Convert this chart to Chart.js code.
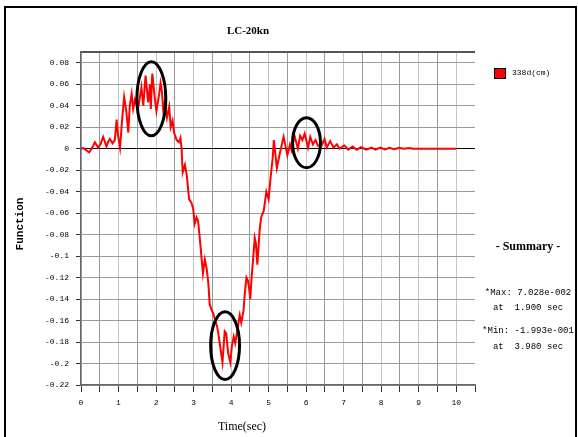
<!DOCTYPE html>
<html>
<head>
<meta charset="utf-8">
<title>LC-20kn</title>
<script src="https://cdn.jsdelivr.net/npm/chart.js@4/dist/chart.umd.min.js"></script>
<style>
  html, body { margin: 0; padding: 0; background: #fff; }
  #wrap { position: relative; width: 578px; height: 437px; }
</style>
</head>
<body>
<div id="wrap"><canvas id="grafico" width="578" height="437"></canvas></div>
<script>
// Dados
const titulo = 'LC-20kn';
const nomeSerie = '338d(cm)';
const tituloX = 'Time(sec)';
const tituloY = 'Function';

const tempos = [
  0, 0.06, 0.12, 0.22, 0.30, 0.37, 0.46, 0.52, 0.59, 0.68, 0.72, 0.77, 0.84, 0.90, 0.95, 0.98,
  1.04, 1.10, 1.15, 1.21, 1.26, 1.30, 1.35, 1.39, 1.44, 1.52, 1.61, 1.66, 1.72, 1.79, 1.84, 1.86,
  1.90, 1.97, 2.01, 2.08, 2.12, 2.16, 2.19, 2.23, 2.29, 2.35, 2.39, 2.44, 2.48, 2.55, 2.61, 2.65,
  2.68, 2.71, 2.77, 2.82, 2.88, 2.94, 2.99, 3.03, 3.08, 3.12, 3.17, 3.21, 3.25, 3.30, 3.35, 3.39,
  3.43, 3.48, 3.52, 3.58, 3.63, 3.66, 3.70, 3.77, 3.83, 3.87, 3.92, 3.98, 4.02, 4.07, 4.11, 4.18,
  4.23, 4.27, 4.33, 4.37, 4.41, 4.45, 4.48, 4.51, 4.55, 4.58, 4.63, 4.66, 4.70, 4.76, 4.80, 4.87,
  4.94, 5.00, 5.05, 5.11, 5.14, 5.22, 5.30, 5.40, 5.50, 5.57, 5.61, 5.69, 5.78, 5.84, 5.90, 5.96,
  6.05, 6.11, 6.18, 6.25, 6.31, 6.40, 6.49, 6.55, 6.64, 6.73, 6.82, 6.89, 7.02, 7.12, 7.24, 7.35,
  7.46, 7.60, 7.74, 7.85, 7.98, 8.10, 8.22, 8.35, 8.48, 8.60, 8.75, 8.85, 10.0
];
const valores = [
  0, 0.0006, -0.001, -0.0035, 0.001, 0.006, 0.001, 0.004, 0.011, 0.002, 0.006, 0.009, 0.005, 0.008, 0.027, 0.014,
  0.001, 0.029, 0.048, 0.034, 0.015, 0.040, 0.051, 0.037, 0.046, 0.037, 0.057, 0.040, 0.068, 0.043, 0.060, 0.037,
  0.070, 0.046, 0.035, 0.050, 0.061, 0.052, 0.037, 0.043, 0.029, 0.039, 0.020, 0.026, 0.015, 0.008, 0.006, 0.010,
  0.000, -0.022, -0.015, -0.025, -0.047, -0.050, -0.056, -0.070, -0.064, -0.067, -0.085, -0.101, -0.116, -0.103, -0.112, -0.124,
  -0.145, -0.150, -0.153, -0.160, -0.166, -0.172, -0.182, -0.199, -0.170, -0.172, -0.190, -0.199, -0.184, -0.175, -0.181, -0.166,
  -0.155, -0.162, -0.151, -0.133, -0.120, -0.123, -0.130, -0.140, -0.118, -0.106, -0.083, -0.088, -0.108, -0.076, -0.064, -0.058,
  -0.040, -0.047, -0.028, -0.008, 0.008, -0.018, -0.004, 0.011, -0.006, 0.004, -0.001, 0.012, 0.000, 0.012, 0.008, 0.014,
  0.001, 0.011, 0.004, 0.008, 0.003, 0.002, 0.009, 0.001, 0.007, 0.001, 0.004, 0.000, 0.003, -0.001, 0.002, -0.001,
  0.0015, -0.001, 0.001, -0.0008, 0.001, -0.0008, 0.0008, -0.0005, 0.0008, 0, 0.0006, 0, 0
];

// Rótulos dos eixos
const ticksY = [0.08, 0.06, 0.04, 0.02, 0, -0.02, -0.04, -0.06, -0.08, -0.1, -0.12, -0.14, -0.16, -0.18, -0.2, -0.22];
const ticksX = [0, 1, 2, 3, 4, 5, 6, 7, 8, 9, 10];

// Resumo
const resumoTitulo = '- Summary -';
const resumoLinhas = ['*Max: 7.028e-002', 'at  1.900 sec', '*Min: -1.993e-001', 'at  3.980 sec'];

// Elipses de destaque (centro e raios em unidades dos eixos)
const destaques = [
  { t: 1.875, v: 0.0465, rt: 0.385, rv: 0.0345 },
  { t: 3.84, v: -0.1833, rt: 0.385, rv: 0.0316 },
  { t: 6.01, v: 0.0056, rt: 0.372, rv: 0.0233 }
];

const pontos = tempos.map((t, i) => ({ x: t, y: valores[i] }));

// Plugin para textos, moldura e elipses
const extras = {
  id: 'extras',
  afterDraw(chart) {
    const ctx = chart.ctx;
    const sx = chart.scales.x, sy = chart.scales.y;
    const area = chart.chartArea;
    ctx.save();

    // borda superior do gráfico
    ctx.strokeStyle = '#555';
    ctx.lineWidth = 2;
    ctx.beginPath();
    ctx.moveTo(area.left, area.top);
    ctx.lineTo(area.right, area.top);
    ctx.stroke();

    // elipses
    ctx.strokeStyle = '#000';
    ctx.lineWidth = 3;
    destaques.forEach(d => {
      const cx = sx.getPixelForValue(d.t);
      const cy = sy.getPixelForValue(d.v);
      const rx = Math.abs(sx.getPixelForValue(d.t + d.rt) - cx);
      const ry = Math.abs(sy.getPixelForValue(d.v + d.rv) - cy);
      ctx.beginPath();
      ctx.ellipse(cx, cy, rx, ry, 0, 0, Math.PI * 2);
      ctx.stroke();
    });

    // moldura externa
    ctx.strokeStyle = '#000';
    ctx.lineWidth = 2;
    ctx.strokeRect(5, 7, 571, 440);

    // título
    ctx.fillStyle = '#000';
    ctx.textAlign = 'center';
    ctx.textBaseline = 'middle';
    ctx.font = 'bold 11px "Liberation Serif"';
    ctx.fillText(titulo, 248, 31);

    // títulos dos eixos
    ctx.font = '12px "Liberation Serif"';
    ctx.fillText(tituloX, 242, 427);
    ctx.save();
    ctx.translate(20, 224);
    ctx.rotate(-Math.PI / 2);
    ctx.font = 'bold 11px "Liberation Mono"';
    ctx.fillText(tituloY, 0, 0);
    ctx.restore();

    // legenda
    ctx.fillStyle = '#ff0000';
    ctx.fillRect(494, 68, 11, 10);
    ctx.strokeStyle = '#000';
    ctx.lineWidth = 1;
    ctx.strokeRect(494.5, 68.5, 11, 10);
    ctx.fillStyle = '#000';
    ctx.textAlign = 'left';
    ctx.font = '8px "Liberation Mono"';
    ctx.fillText(nomeSerie, 512, 73);

    // resumo
    ctx.textAlign = 'center';
    ctx.font = 'bold 12px "Liberation Serif"';
    ctx.fillText(resumoTitulo, 528, 247);
    ctx.font = '9px "Liberation Mono"';
    const ys = [293, 308, 331, 347];
    resumoLinhas.forEach((l, i) => ctx.fillText(l, 528, ys[i]));

    ctx.restore();
  }
};

document.addEventListener('DOMContentLoaded', function () {
  const ctx = document.getElementById('grafico').getContext('2d');
  new Chart(ctx, {
    type: 'line',
    data: {
      datasets: [{
        label: nomeSerie,
        data: pontos,
        borderColor: '#ff0000',
        borderWidth: 2,
        pointRadius: 0,
        tension: 0,
        fill: false
      }]
    },
    options: {
      responsive: false,
      animation: false,
      devicePixelRatio: 1,
      layout: { padding: { top: 52, right: 103, left: 0, bottom: 0 } },
      plugins: {
        legend: { display: false },
        title: { display: false },
        tooltip: { enabled: false }
      },
      scales: {
        x: {
          type: 'linear',
          min: 0,
          max: 10.5,
          afterFit: s => { s.height = 52; },
          afterBuildTicks: s => {
            const t = [];
            for (let i = 0; i <= 21; i++) t.push({ value: i / 2 });
            s.ticks = t;
          },
          ticks: {
            autoSkip: false,
            maxRotation: 0,
            padding: 6,
            color: '#000',
            font: { family: 'Liberation Mono', size: 8 },
            callback: v => ticksX.includes(v) ? String(v) : ''
          },
          grid: {
            color: c => {
              const v = c.tick ? c.tick.value : 0;
              if (v > 10) return 'rgba(0,0,0,0)';
              return Number.isInteger(v) ? '#c4c4c4' : '#999';
            },
            tickColor: '#333',
            tickLength: 7,
            lineWidth: 1
          },
          border: { color: '#666', width: 1.5 }
        },
        y: {
          type: 'linear',
          min: -0.22,
          max: 0.09,
          afterFit: s => { s.width = 81; },
          afterBuildTicks: s => { s.ticks = ticksY.map(v => ({ value: v })); },
          ticks: {
            autoSkip: false,
            padding: 7,
            color: '#000',
            font: { family: 'Liberation Mono', size: 8 },
            callback: v => String(parseFloat(v.toFixed(2)))
          },
          grid: {
            color: c => (c.tick && c.tick.value === 0) ? '#000' : '#9a9a9a',
            tickColor: '#333',
            tickLength: 5,
            lineWidth: 1
          },
          border: { color: '#666', width: 1.5 }
        }
      }
    },
    plugins: [extras]
  });
});
</script>
</body>
</html>
